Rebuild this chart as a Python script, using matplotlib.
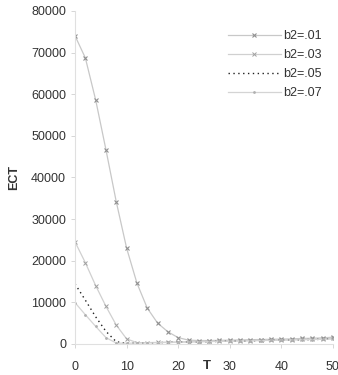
import matplotlib
matplotlib.use("Agg")
import matplotlib.pyplot as plt

T = list(range(0, 51, 2))
b01 = [74000, 68700, 58600, 46600, 34100, 23000, 14600, 8600, 5000, 2900, 1500, 900, 800,
       800, 850, 900, 950, 1000, 1050, 1100, 1150, 1200, 1300, 1350, 1450, 1600]
b03 = [24500, 19500, 14000, 9000, 4500, 1200, 300, 300, 350, 400, 450, 500, 550,
       600, 650, 700, 750, 800, 850, 900, 950, 1000, 1100, 1150, 1250, 1350]
b05 = [14400, 10500, 6500, 3000, 500, 150, 200, 250, 300, 350, 400, 450, 500,
       550, 600, 650, 700, 750, 800, 850, 900, 950, 1000, 1050, 1100, 1200]
b07 = [9900, 7000, 4200, 1500, 200, 150, 200, 250, 300, 350, 400, 450, 500,
       550, 600, 650, 700, 750, 800, 850, 900, 950, 1000, 1050, 1100, 1150]
labels = ["b2=.01", "b2=.03", "b2=.05", "b2=.07"]
xticks = [0, 10, 20, 30, 40, 50]
yticks = [0, 10000, 20000, 30000, 40000, 50000, 60000, 70000, 80000]

plt.rcParams['font.family'] = ['Liberation Sans', 'DejaVu Sans']
fig = plt.figure(figsize=(3.38, 3.75), dpi=100)
ax = fig.add_axes([0.222, 0.083, 0.763, 0.888])

ax.plot(T, b01, color='#c8c8c8', lw=0.9, marker='x', ms=3, mec='#909090', mew=0.8, label=labels[0])
ax.plot(T, b03, color='#d0d0d0', lw=0.9, marker='x', ms=2.5, mec='#a0a0a0', mew=0.7, label=labels[1])
ax.plot(T, b05, color='#202020', lw=1.0, ls=(0, (1, 2.5)), label=labels[2])
ax.plot(T, b07, color='#d4d4d4', lw=0.9, marker='.', ms=2, mec='#b0b0b0', label=labels[3])

ax.set_xlim(0, 50)
ax.set_ylim(0, 80000)
ax.set_xticks(xticks)
ax.set_yticks(yticks)
ax.tick_params(axis='both', colors='#d0d0d0', labelcolor='#333333', labelsize=9, length=3, width=0.6)
ax.tick_params(axis='x', pad=9)
for s in ['top', 'right']:
    ax.spines[s].set_visible(False)
for s in ['left', 'bottom']:
    ax.spines[s].set_color('#e0e0e0')
    ax.spines[s].set_linewidth(0.8)

ax.set_ylabel('ECT', fontsize=9, fontweight='bold', color='#333333', labelpad=8)
ax.text(25.6, -5400, 'T', ha='center', va='center', fontsize=9.5, fontweight='bold', color='#333333')

leg = ax.legend(loc='upper right', bbox_to_anchor=(1.0, 0.975), frameon=False, fontsize=9,
                handlelength=4.2, handletextpad=0.2, labelspacing=0.55, labelcolor='#333333')

fig.savefig('out.png', dpi=100)
